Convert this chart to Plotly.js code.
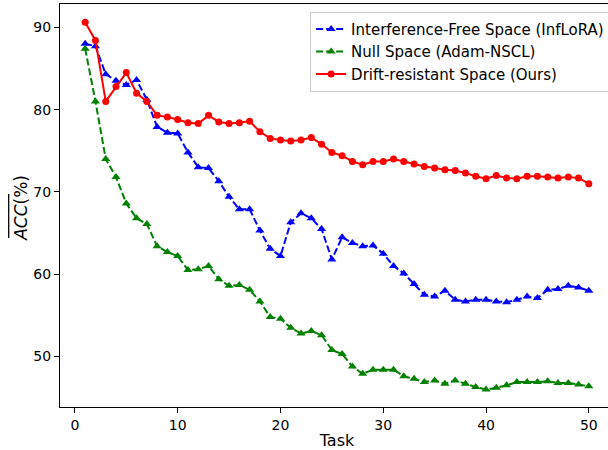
<!DOCTYPE html>
<html>
<head>
<meta charset="utf-8">
<script src="https://cdn.plot.ly/plotly-3.0.1.min.js"></script>
<style>
html, body { margin: 0; padding: 0; overflow: hidden; background: #fff; }
#chart { width: 620px; height: 450px; }
</style>
</head>
<body>
<div id="chart"></div>
<script>
const tasks = Array.from({length: 50}, (_, i) => i + 1);

const infloraName = "Interference-Free Space (InfLoRA)";
const infloraAcc = [88.0, 87.7, 84.3, 83.5, 83.0, 83.6, 81.2, 77.9, 77.2, 77.1,
                    74.8, 73.0, 72.9, 71.3, 69.4, 67.9, 67.9, 65.3, 63.1, 62.2,
                    66.3, 67.4, 66.8, 65.5, 61.8, 64.5, 63.8, 63.4, 63.5, 62.5,
                    61.0, 60.1, 58.8, 57.5, 57.3, 58.0, 56.9, 56.7, 56.9, 56.9,
                    56.7, 56.6, 56.9, 57.3, 57.1, 58.1, 58.2, 58.6, 58.4, 58.0];

const nsclName = "Null Space (Adam-NSCL)";
const nsclAcc = [87.4, 81.0, 74.0, 71.8, 68.6, 66.8, 66.1, 63.4, 62.7, 62.2,
                 60.5, 60.6, 61.0, 59.4, 58.6, 58.7, 58.1, 56.7, 54.8, 54.6,
                 53.5, 52.8, 53.1, 52.6, 50.8, 50.3, 48.8, 47.9, 48.4, 48.4,
                 48.4, 47.6, 47.3, 46.9, 47.1, 46.7, 47.1, 46.7, 46.3, 46.0,
                 46.2, 46.5, 46.9, 46.9, 46.9, 47.0, 46.8, 46.8, 46.6, 46.4];

const oursName = "Drift-resistant Space (Ours)";
const oursAcc = [90.6, 88.4, 81.0, 82.8, 84.5, 82.0, 81.0, 79.3, 79.1, 78.8,
                 78.4, 78.3, 79.3, 78.5, 78.3, 78.4, 78.6, 77.3, 76.5, 76.3,
                 76.2, 76.3, 76.6, 75.8, 74.8, 74.4, 73.7, 73.3, 73.7, 73.7,
                 74.0, 73.7, 73.4, 73.1, 72.9, 72.7, 72.6, 72.3, 71.9, 71.6,
                 72.0, 71.7, 71.6, 71.9, 71.9, 71.8, 71.7, 71.8, 71.7, 71.0];

const xTicks = [0, 10, 20, 30, 40, 50];
const yTicks = [50, 60, 70, 80, 90];

const font = "DejaVu Sans, sans-serif";

const traces = [
  { x: tasks, y: infloraAcc, name: infloraName, type: "scatter", mode: "lines+markers",
    line: { color: "#0000ff", width: 2, dash: "7px,3px" },
    marker: { symbol: "triangle-up", size: 8, color: "#0000ff" } },
  { x: tasks, y: nsclAcc, name: nsclName, type: "scatter", mode: "lines+markers",
    line: { color: "#008000", width: 2, dash: "7px,3px" },
    marker: { symbol: "triangle-up", size: 8, color: "#008000" } },
  { x: tasks, y: oursAcc, name: oursName, type: "scatter", mode: "lines+markers",
    line: { color: "#ff0000", width: 2 },
    marker: { symbol: "circle", size: 7, color: "#ff0000" } }
];

const layout = {
  width: 620, height: 450,
  margin: { l: 60, r: 6, t: 4, b: 43 },
  paper_bgcolor: "#ffffff", plot_bgcolor: "#ffffff",
  font: { family: font, size: 14, color: "#000" },
  showlegend: true,
  legend: {
    x: 0.993, y: 0.981, xanchor: "right", yanchor: "top",
    bgcolor: "rgba(255,255,255,0.8)", bordercolor: "#cccccc", borderwidth: 1,
    font: { family: font, size: 15, color: "#000" },
    tracegroupgap: 0
  },
  xaxis: {
    range: [-1.45, 52.45], tickvals: xTicks, ticktext: xTicks.map(String),
    showgrid: false, zeroline: false, showline: true, mirror: true,
    linecolor: "#000", linewidth: 1, ticks: "outside", ticklen: 5, tickcolor: "#000",
    tickfont: { family: font, size: 14, color: "#000" },
    title: { text: "Task", font: { family: font, size: 16, color: "#000" }, standoff: 6 }
  },
  yaxis: {
    range: [43.87, 92.83], tickvals: yTicks, ticktext: yTicks.map(String),
    showgrid: false, zeroline: false, showline: true, mirror: true,
    linecolor: "#000", linewidth: 1, ticks: "outside", ticklen: 5, tickcolor: "#000",
    tickfont: { family: font, size: 14, color: "#000" }
  },
  annotations: [{
    text: "<i>ACC</i>(%)", xref: "paper", yref: "paper",
    x: -0.0705, y: 0.494, xanchor: "center", yanchor: "middle",
    textangle: -90, showarrow: false,
    font: { family: font, size: 17, color: "#000" }
  }],
  shapes: [{
    type: "line", xref: "paper", yref: "paper",
    x0: -0.0926, x1: -0.0926, y0: 0.4194, y1: 0.5285,
    line: { color: "#000", width: 1.3 }
  }]
};

Plotly.newPlot("chart", traces, layout, { displayModeBar: false, staticPlot: true });
</script>
</body>
</html>
